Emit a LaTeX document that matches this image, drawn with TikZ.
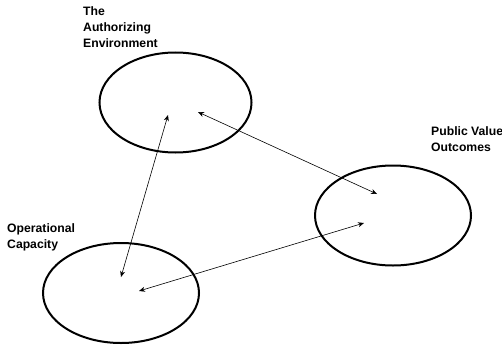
\documentclass[tikz,border=0pt]{standalone}
\usepackage{fontspec}
\setmainfont{Liberation Sans}
\usetikzlibrary{shapes.geometric,arrows.meta}
\def\darr{\draw[{Stealth[length=6pt,width=5pt]}-{Stealth[length=6pt,width=5pt]},line width=0.6pt]}
\tikzset{
  ring/.style={ellipse,draw,line width=2pt,inner sep=0pt,minimum width=152pt,minimum height=100pt},
  tag/.style={align=left,anchor=north west,inner sep=0pt,font=\fontsize{12.2}{16}\selectfont\bfseries}
}

\begin{document}
\begin{tikzpicture}[x=1pt,y=-1pt]
    \useasboundingbox (0,0) rectangle (502,345);
    % the three circles
    \node[ring] (auth) at (175.5,102.5) {};
    \node[ring,minimum width=156pt] (pub) at (393,215.5) {};
    \node[ring,minimum width=156pt] (oper) at (121,293) {};
    % their titles
    \node[tag] (authtag) at (83,6) {The\\Authorizing\\Environment};
    \node[tag] (pubtag) at (431,126) {Public Value\\Outcomes};
    \node[tag] (opertag) at (7,223) {Operational\\Capacity};
    % arrow ends
    \coordinate (authA) at (168,115);
    \coordinate (authB) at (198,112);
    \coordinate (pubB) at (377,194);
    \coordinate (pubC) at (364,223);
    \coordinate (operA) at (121,277);
    \coordinate (operC) at (139,291);
    \darr (authA) -- (operA);
    \darr (authB) -- (pubB);
    \darr (pubC) -- (operC);
\end{tikzpicture}
\end{document}
